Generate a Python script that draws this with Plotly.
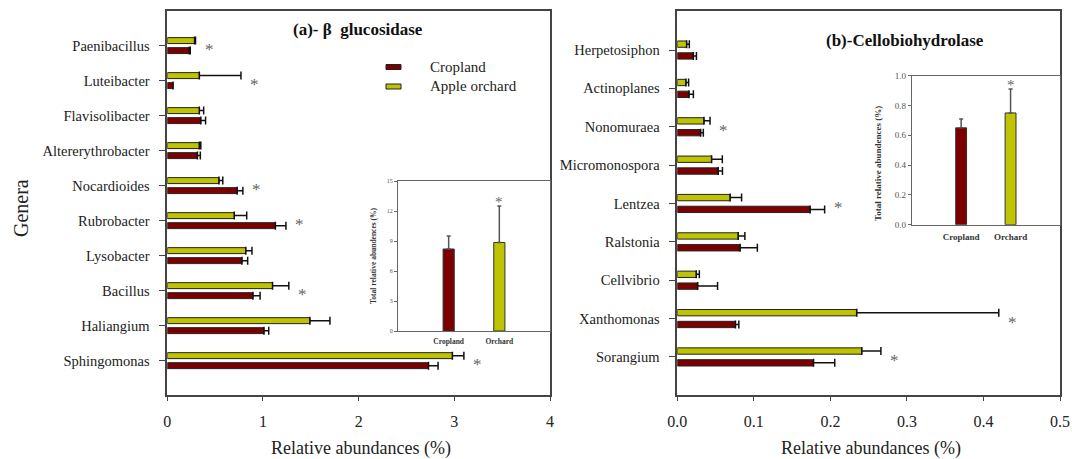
import plotly.graph_objects as go

# ---------------- data ----------------
genera_a = ["Sphingomonas", "Haliangium", "Bacillus", "Lysobacter", "Rubrobacter",
            "Nocardioides", "Altererythrobacter", "Flavisolibacter", "Luteibacter", "Paenibacillus"]
crop_a = [2.73, 1.01, 0.895, 0.78, 1.13, 0.73, 0.315, 0.35, 0.06, 0.23]
crop_a_err = [0.10, 0.05, 0.075, 0.06, 0.11, 0.06, 0.03, 0.05, 0.0, 0.01]
orch_a = [2.98, 1.49, 1.10, 0.82, 0.70, 0.54, 0.335, 0.335, 0.335, 0.285]
orch_a_err = [0.12, 0.21, 0.17, 0.065, 0.13, 0.04, 0.015, 0.045, 0.435, 0.01]
sig_a = [True, False, True, False, True, True, False, False, True, True]

genera_b = ["Sorangium", "Xanthomonas", "Cellvibrio", "Ralstonia", "Lentzea",
            "Micromonospora", "Nonomuraea", "Actinoplanes", "Herpetosiphon"]
crop_b = [0.178, 0.076, 0.0266, 0.082, 0.1735, 0.0535, 0.0305, 0.0153, 0.021]
crop_b_err = [0.0277, 0.0044, 0.026, 0.0226, 0.019, 0.0055, 0.0035, 0.0057, 0.004]
orch_b = [0.241, 0.2344, 0.0248, 0.0796, 0.069, 0.0448, 0.0348, 0.0113, 0.0122]
orch_b_err = [0.025, 0.1856, 0.004, 0.0087, 0.015, 0.014, 0.008, 0.0035, 0.0035]
sig_b = [True, True, False, False, True, False, True, False, False]

inset_groups = ["Cropland", "Orchard"]
inset_a_vals = [8.2, 8.85]
inset_a_err = [1.3, 3.65]
inset_a_sig = [False, True]
inset_b_vals = [0.65, 0.75]
inset_b_err = [0.06, 0.16]
inset_b_sig = [False, True]

# ---------------- style ----------------
W, H = 1072, 459
RED = "#7d0000"
YEL = "#bfc300"
FONT = "Liberation Serif"
LINE = "#444444"


def fx(px):
    return px / W


def fy(py):
    return 1 - py / H


fig = go.Figure()


def add_panel(names, crop, crop_err, orch, orch_err, xa, ya, off, bw):
    n = len(names)
    idx = list(range(n))
    fig.add_trace(go.Bar(
        y=[i + off for i in idx], x=orch, orientation="h", width=bw,
        marker=dict(color=YEL, line=dict(color="#222", width=1)),
        error_x=dict(type="data", array=orch_err, arrayminus=[0] * n, symmetric=False,
                     color="#111", thickness=1.5, width=4),
        xaxis=xa, yaxis=ya, showlegend=False, name="Apple orchard"))
    fig.add_trace(go.Bar(
        y=[i - off for i in idx], x=crop, orientation="h", width=bw,
        marker=dict(color=RED, line=dict(color="#222", width=1)),
        error_x=dict(type="data", array=crop_err, arrayminus=[0] * n, symmetric=False,
                     color="#111", thickness=1.5, width=4),
        xaxis=xa, yaxis=ya, showlegend=False, name="Cropland"))


add_panel(genera_a, crop_a, crop_a_err, orch_a, orch_a_err, "x", "y", 0.143, 0.17)
add_panel(genera_b, crop_b, crop_b_err, orch_b, orch_b_err, "x2", "y2", 0.154, 0.165)


def add_inset(vals, errs, xa, ya):
    fig.add_trace(go.Bar(
        x=[0, 1], y=vals, width=0.22,
        marker=dict(color=[RED, YEL], line=dict(color="#333", width=1)),
        error_y=dict(type="data", array=errs, arrayminus=[0, 0], symmetric=False,
                     color="#555", thickness=1.5, width=2),
        xaxis=xa, yaxis=ya, showlegend=False))


add_inset(inset_a_vals, inset_a_err, "x3", "y3")
add_inset(inset_b_vals, inset_b_err, "x4", "y4")

annotations = []


def stars(crop, crop_err, orch, orch_err, sig, xref, yref):
    for i, s in enumerate(sig):
        if s:
            end = max(crop[i] + crop_err[i], orch[i] + orch_err[i])
            annotations.append(dict(x=end, y=i, xref=xref, yref=yref, text="*",
                                    showarrow=False, xanchor="left", yanchor="middle",
                                    xshift=7, yshift=-4,
                                    font=dict(family=FONT, size=17, color="#666")))


stars(crop_a, crop_a_err, orch_a, orch_a_err, sig_a, "x", "y")
stars(crop_b, crop_b_err, orch_b, orch_b_err, sig_b, "x2", "y2")

for vals, errs, sig, xr, yr in [(inset_a_vals, inset_a_err, inset_a_sig, "x3", "y3"),
                                 (inset_b_vals, inset_b_err, inset_b_sig, "x4", "y4")]:
    for i, s in enumerate(sig):
        if s:
            annotations.append(dict(x=i, y=vals[i] + errs[i], xref=xr, yref=yr, text="*",
                                    showarrow=False, xanchor="center", yanchor="bottom", yshift=-6,
                                    font=dict(family=FONT, size=15, color="#666")))


def ptext(x, y, text, size, color="#222", anchor="center", angle=0):
    return dict(x=fx(x), y=fy(y), xref="paper", yref="paper", text=text, textangle=angle,
                showarrow=False, xanchor=anchor, yanchor="middle",
                font=dict(family=FONT, size=size, color=color))


# titles and axis labels
annotations += [
    ptext(358, 30, "<b>(a)- β  glucosidase</b>", 17, "#111"),
    ptext(905, 40, "<b>(b)-Cellobiohydrolase</b>", 17, "#111"),
    ptext(361, 448, "Relative abundances (%)", 18),
    ptext(871, 448, "Relative abundances (%)", 18),
    ptext(21, 208, "Genera", 20, angle=-90),
    ptext(428, 66.7, "Cropland", 15, anchor="left"),
    ptext(428, 86, "Apple orchard", 15, anchor="left"),
    ptext(373, 256, "<b>Total relative abundences (%)</b>", 7.5, "#333", angle=-90),
    ptext(878, 164, "<b>Total relative abundences (%)</b>", 9, "#333", angle=-90),
]

shapes = [
    dict(type="rect", xref="paper", yref="paper", x0=fx(386), x1=fx(401), y0=fy(69.5), y1=fy(64.5),
         fillcolor=RED, line=dict(color="#222", width=1)),
    dict(type="rect", xref="paper", yref="paper", x0=fx(386), x1=fx(401), y0=fy(89), y1=fy(84),
         fillcolor=YEL, line=dict(color="#222", width=1)),
]

main_x = dict(showline=True, mirror=True, linecolor=LINE, linewidth=1.5, ticks="outside",
              ticklen=4, tickcolor=LINE, showgrid=False, zeroline=False, automargin=False,
              tickfont=dict(family=FONT, size=16, color="#222"), ticklabelstandoff=7)
main_y = dict(showline=True, mirror=True, linecolor=LINE, linewidth=1.5, ticks="outside",
              ticklen=7, tickcolor=LINE, showgrid=False, zeroline=False, automargin=False,
              tickfont=dict(family=FONT, size=14.5, color="#222"), ticklabelstandoff=6)

ins_x = dict(showline=True, mirror=True, linecolor="#666", linewidth=1, ticks="",
             showgrid=False, zeroline=False, range=[-1, 2], tickvals=[0, 1],
             ticktext=["<b>%s</b>" % g for g in inset_groups], automargin=False)
ins_y = dict(showline=True, mirror=True, linecolor="#666", linewidth=1, ticks="outside",
             ticklen=3, tickcolor="#666", showgrid=False, zeroline=False, automargin=False)

fig.update_layout(
    width=W, height=H, margin=dict(l=0, r=0, t=0, b=0, autoexpand=False),
    paper_bgcolor="white", plot_bgcolor="white", barmode="overlay",
    font=dict(family=FONT),
    xaxis=dict(main_x, domain=[fx(167.3), fx(550)], range=[0, 4], tickvals=[0, 1, 2, 3, 4],
               anchor="y"),
    yaxis=dict(main_y, domain=[fy(395.3), fy(11.3)], range=[-0.99, 9.98],
               tickvals=list(range(len(genera_a))), ticktext=genera_a, anchor="x"),
    xaxis2=dict(main_x, domain=[fx(677.3), fx(1060)], range=[0, 0.5],
                tickvals=[0, 0.1, 0.2, 0.3, 0.4, 0.5], tickformat=".1f", anchor="y2"),
    yaxis2=dict(main_y, domain=[fy(395.3), fy(11.3)], range=[-1.0, 9.01],
                tickvals=list(range(len(genera_b))), ticktext=genera_b, anchor="x2"),
    xaxis3=dict(ins_x, domain=[fx(398), fx(550)], anchor="y3",
                tickfont=dict(family=FONT, size=7.5, color="#333"), ticklabelstandoff=3),
    yaxis3=dict(ins_y, domain=[fy(331), fy(181)], range=[0, 15], tickvals=[0, 3, 6, 9, 12, 15],
                anchor="x3", tickfont=dict(family=FONT, size=6, color="#555")),
    xaxis4=dict(ins_x, domain=[fx(911.7), fx(1060)], anchor="y4",
                tickfont=dict(family=FONT, size=9, color="#333"), ticklabelstandoff=3),
    yaxis4=dict(ins_y, domain=[fy(224.7), fy(75.7)], range=[0, 1],
                tickvals=[0, 0.2, 0.4, 0.6, 0.8, 1.0], tickformat=".1f",
                anchor="x4", tickfont=dict(family=FONT, size=9, color="#555")),
    annotations=annotations, shapes=shapes,
)

fig.write_html("out.html")
